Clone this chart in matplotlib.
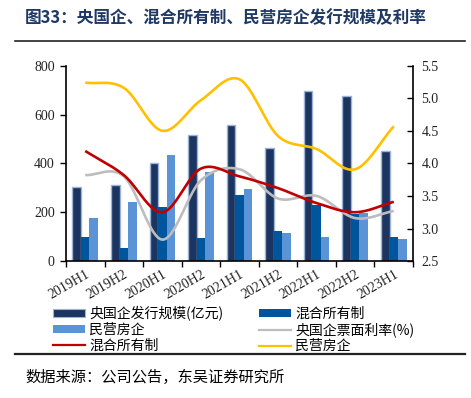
import numpy as np
import matplotlib
matplotlib.use("Agg")
import matplotlib.pyplot as plt
from matplotlib.patches import Patch
from matplotlib.lines import Line2D
from matplotlib.font_manager import FontProperties

plt.rcParams['font.family'] = ['Noto Sans CJK SC', 'DejaVu Sans']

categories = ["2019H1", "2019H2", "2020H1", "2020H2", "2021H1", "2021H2", "2022H1", "2022H2", "2023H1"]
soe_scale = [302, 311, 400, 515, 557, 462, 698, 676, 449]
mixed_scale = [97, 52, 222, 96, 269, 122, 231, 194, 97]
private_scale = [177, 243, 435, 365, 295, 115, 97, 195, 91]
soe_rate = [3.82, 3.80, 2.83, 3.74, 3.91, 3.46, 3.50, 3.16, 3.27]
mixed_rate = [4.19, 3.82, 3.25, 3.92, 3.80, 3.62, 3.39, 3.25, 3.41]
private_rate = [5.24, 5.16, 4.50, 4.97, 5.29, 4.42, 4.22, 3.91, 4.57]

left_ticks = [0, 200, 400, 600, 800]
right_ticks = [2.5, 3.0, 3.5, 4.0, 4.5, 5.0, 5.5]

c_dark = '#1B3560'
c_mid = '#00569C'
c_light = '#5A93D6'
c_gray = '#BDBDBD'
c_red = '#C00000'
c_yellow = '#FFC000'

serif = FontProperties(family='Liberation Serif', size=10)


def smooth(xs, ys, n=40):
    xs = np.asarray(xs, float)
    ys = np.asarray(ys, float)
    px = np.concatenate([[2 * xs[0] - xs[1]], xs, [2 * xs[-1] - xs[-2]]])
    py = np.concatenate([[2 * ys[0] - ys[1]], ys, [2 * ys[-1] - ys[-2]]])
    outx, outy = [], []
    t = np.linspace(0, 1, n)
    for i in range(1, len(px) - 2):
        p0 = np.array([px[i], py[i]])
        p3 = np.array([px[i + 1], py[i + 1]])
        p1 = p0 + (np.array([px[i + 1], py[i + 1]]) - np.array([px[i - 1], py[i - 1]])) / 6
        p2 = p3 - (np.array([px[i + 2], py[i + 2]]) - np.array([px[i], py[i]])) / 6
        b = ((1 - t) ** 3)[:, None] * p0 + (3 * (1 - t) ** 2 * t)[:, None] * p1 + \
            (3 * (1 - t) * t ** 2)[:, None] * p2 + (t ** 3)[:, None] * p3
        outx.extend(b[:, 0])
        outy.extend(b[:, 1])
    return outx, outy


fig = plt.figure(figsize=(4.71, 3.98), dpi=100)
ax = fig.add_axes([0.140, 0.344, 0.737, 0.491])
ax2 = ax.twinx()

x = np.arange(len(categories))
w = 0.22
ax.bar(x - w, soe_scale, w, color=c_dark, edgecolor='#9DB3D6', linewidth=1.0, zorder=2)
ax.bar(x, mixed_scale, w, color=c_mid, zorder=2)
ax.bar(x + w, private_scale, w, color=c_light, zorder=2)

for vals, col in [(soe_rate, c_gray), (private_rate, c_yellow), (mixed_rate, c_red)]:
    sx, sy = smooth(x, vals)
    ax2.plot(sx, sy, color=col, linewidth=1.9, solid_capstyle='butt')

ax.set_xlim(-0.5, len(categories) - 0.5)
ax.set_ylim(0, 800)
ax2.set_ylim(2.5, 5.5)
ax.set_yticks(left_ticks)
ax.set_yticklabels([str(v) for v in left_ticks])
ax2.set_yticks(right_ticks)
ax2.set_yticklabels([f"{v:.1f}" for v in right_ticks])

ax.set_xticks(np.arange(len(categories) + 1) - 0.5)
ax.set_xticklabels([])
ax.set_xticks(x, minor=True)
ax.set_xticklabels(categories, minor=True, rotation=30, ha='right', va='top',
                   rotation_mode='anchor')
ax.tick_params(axis='x', which='minor', length=0, pad=5)
ax.tick_params(axis='x', which='major', length=4, direction='out', width=1)
ax.tick_params(axis='y', length=4, direction='out', width=1, pad=4)
ax2.tick_params(axis='y', length=4, direction='in', width=1, pad=6)

for lbl in ax.get_yticklabels() + ax2.get_yticklabels() + ax.get_xticklabels(minor=True):
    lbl.set_fontproperties(serif)
    lbl.set_color('#222222')

for a in (ax, ax2):
    a.spines['top'].set_visible(False)
    for s in ('left', 'right', 'bottom'):
        a.spines[s].set_linewidth(1.2)
        a.spines[s].set_color('black')
ax.spines['right'].set_visible(False)
ax2.spines['left'].set_visible(False)
ax2.spines['bottom'].set_visible(False)

handles = [
    Patch(facecolor=c_dark, edgecolor='#9DB3D6', linewidth=0.8),
    Patch(facecolor=c_light),
    Line2D([], [], color=c_red, linewidth=1.6),
    Patch(facecolor=c_mid),
    Line2D([], [], color=c_gray, linewidth=1.6),
    Line2D([], [], color=c_yellow, linewidth=1.6),
]
labels = ["央国企发行规模(亿元)", "民营房企", "混合所有制", "混合所有制", "央国企票面利率(%)", "民营房企"]
fig.legend(handles, labels, loc='upper left', bbox_to_anchor=(46 / 471, 1 - 299 / 398),
           ncol=2, frameon=False, fontsize=10, borderpad=0, handlelength=2.3,
           handleheight=0.55, handletextpad=0.3, columnspacing=2.6, labelspacing=0.12)

fig.text(25 / 471, 1 - 18.5 / 398, "图33：央国企、混合所有制、民营房企发行规模及利率",
         fontsize=12, fontweight='bold', color='#1F3864', va='center', ha='left')
fig.add_artist(Line2D([15 / 471, 465 / 471], [1 - 40.5 / 398] * 2, color='#222222', linewidth=1.2))
fig.add_artist(Line2D([15 / 471, 465 / 471], [1 - 354 / 398] * 2, color='#222222', linewidth=1.6))
fig.text(25 / 471, 1 - 377 / 398, "数据来源：公司公告，东吴证券研究所",
         fontsize=11, color='black', va='center', ha='left')

fig.savefig("out.png", dpi=100)
